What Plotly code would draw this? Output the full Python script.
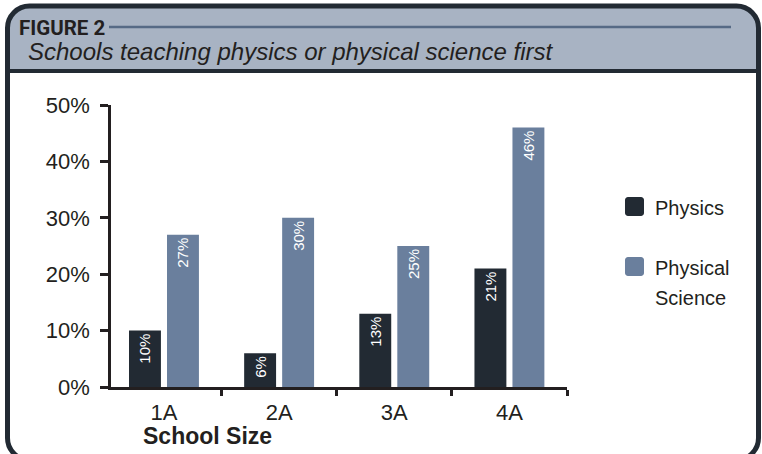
import plotly.graph_objects as go

# Data
school_sizes = ["1A", "2A", "3A", "4A"]
physics = [10, 6, 13, 21]
physical_science = [27, 30, 25, 46]
y_ticks = [0, 10, 20, 30, 40, 50]
y_tick_labels = ["0%", "10%", "20%", "30%", "40%", "50%"]

# Layout geometry (pixels)
W, H = 762, 454
L, R, T, B = 111, 195, 105, 67
PW, PH = W - L - R, H - T - B

DARK = "#222a33"
SLATE = "#6a7f9d"
HEADER = "#a8b3c3"
TEXT = "#231f20"
FONT = "Liberation Sans, Arial, Helvetica, sans-serif"


def px(x):
    return (x - L) / PW


def py(y):
    return (H - B - y) / PH


def path_from(points):
    """Build an SVG path in paper units from a list of (cmd, pixel coords...)."""
    parts = []
    for cmd, *coords in points:
        if cmd == "Z":
            parts.append("Z")
            continue
        vals = []
        for i in range(0, len(coords), 2):
            vals.append(f"{px(coords[i]):.5f},{py(coords[i + 1]):.5f}")
        parts.append(cmd + " ".join(vals))
    return " ".join(parts)


def rounded_rect(x0, y0, x1, y1, r, bottom_round=True):
    k = 0.45 * r
    pts = [("M", x0 + r, y0), ("L", x1 - r, y0),
           ("C", x1 - k, y0, x1, y0 + k, x1, y0 + r)]
    if bottom_round:
        pts += [("L", x1, y1 - r),
                ("C", x1, y1 - k, x1 - k, y1, x1 - r, y1),
                ("L", x0 + r, y1),
                ("C", x0 + k, y1, x0, y1 - k, x0, y1 - r)]
    else:
        pts += [("L", x1, y1), ("L", x0, y1)]
    pts += [("L", x0, y0 + r),
            ("C", x0, y0 + k, x0 + k, y0, x0 + r, y0), ("Z",)]
    return path_from(pts)


def pct(values):
    return [f"{v}%" for v in values]


fig = go.Figure()

for values, name, color in [(physics, "Physics", DARK),
                            (physical_science, "Physical Science", SLATE)]:
    fig.add_trace(go.Bar(
        x=school_sizes, y=values, name=name,
        marker=dict(color=color, line=dict(width=0)),
        text=pct(values), textposition="inside", textangle=-90,
        insidetextanchor="end",
        insidetextfont=dict(color="white", size=15, family=FONT),
        showlegend=False,
    ))

shapes = [
    # header band
    dict(type="path", xref="paper", yref="paper", layer="below",
         path=rounded_rect(7.5, 6, 758.5, 71, 22, bottom_round=False),
         fillcolor=HEADER, line=dict(width=0)),
    # rule next to the figure number
    dict(type="line", xref="paper", yref="paper", layer="above",
         x0=px(109), x1=px(731), y0=py(27), y1=py(27),
         line=dict(color="#566a85", width=2.5)),
    # header separator
    dict(type="line", xref="paper", yref="paper", layer="above",
         x0=px(7.5), x1=px(758.5), y0=py(71), y1=py(71),
         line=dict(color=DARK, width=4)),
    # outer frame
    dict(type="path", xref="paper", yref="paper", layer="above",
         path=rounded_rect(7.5, 6, 758.5, 460, 22),
         fillcolor="rgba(0,0,0,0)", line=dict(color=DARK, width=5)),
]

# legend swatches
for top, color in [(197, DARK), (257, SLATE)]:
    x0, y0, s, r = 625, top, 19, 3
    shapes.append(dict(
        type="path", xref="paper", yref="paper", layer="above",
        path=rounded_rect(x0, y0, x0 + s, y0 + s, r),
        fillcolor=color, line=dict(width=0)))

annotations = [
    dict(text="<b>FIGURE 2</b>", x=px(17), y=py(28), xanchor="left", yanchor="middle",
         font=dict(family="Roboto, " + FONT, size=20.5, color=TEXT)),
    dict(text="<i>Schools teaching physics or physical science first</i>",
         x=px(26), y=py(51), xanchor="left", yanchor="middle",
         font=dict(family=FONT, size=24, color=TEXT)),
    dict(text="<b>School Size</b>", x=px(207), y=py(436), xanchor="center", yanchor="middle",
         font=dict(family=FONT, size=23, color=TEXT)),
    dict(text="Physics", x=px(653), y=py(208), xanchor="left", yanchor="middle",
         font=dict(family=FONT, size=20, color=TEXT)),
    dict(text="Physical", x=px(653), y=py(268), xanchor="left", yanchor="middle",
         font=dict(family=FONT, size=20, color=TEXT)),
    dict(text="Science", x=px(653), y=py(298), xanchor="left", yanchor="middle",
         font=dict(family=FONT, size=20, color=TEXT)),
]
for a in annotations:
    a.update(xref="paper", yref="paper", showarrow=False)

fig.update_layout(
    width=W, height=H,
    margin=dict(l=L, r=R, t=T, b=B, pad=0),
    paper_bgcolor="white", plot_bgcolor="white",
    barmode="group", bargap=0.34, bargroupgap=0.16,
    font=dict(family=FONT, color=TEXT),
    shapes=shapes, annotations=annotations,
    showlegend=False,
)
fig.update_xaxes(
    range=[-0.46, 3.5], showline=True, linecolor=TEXT, linewidth=2.5,
    ticks="outside", tickson="boundaries", ticklen=6, tickwidth=2.5, tickcolor=TEXT,
    tickfont=dict(size=22, color=TEXT), showgrid=False, zeroline=False,
    ticklabelstandoff=4,
)
fig.update_yaxes(
    range=[0, 50], tickvals=y_ticks, ticktext=y_tick_labels,
    showline=True, linecolor=TEXT, linewidth=2.5,
    ticks="outside", ticklen=8, tickwidth=2.5, tickcolor=TEXT,
    tickfont=dict(size=22, color=TEXT), showgrid=False, zeroline=False,
    ticklabelstandoff=6,
)

fig.write_html("out.html")
